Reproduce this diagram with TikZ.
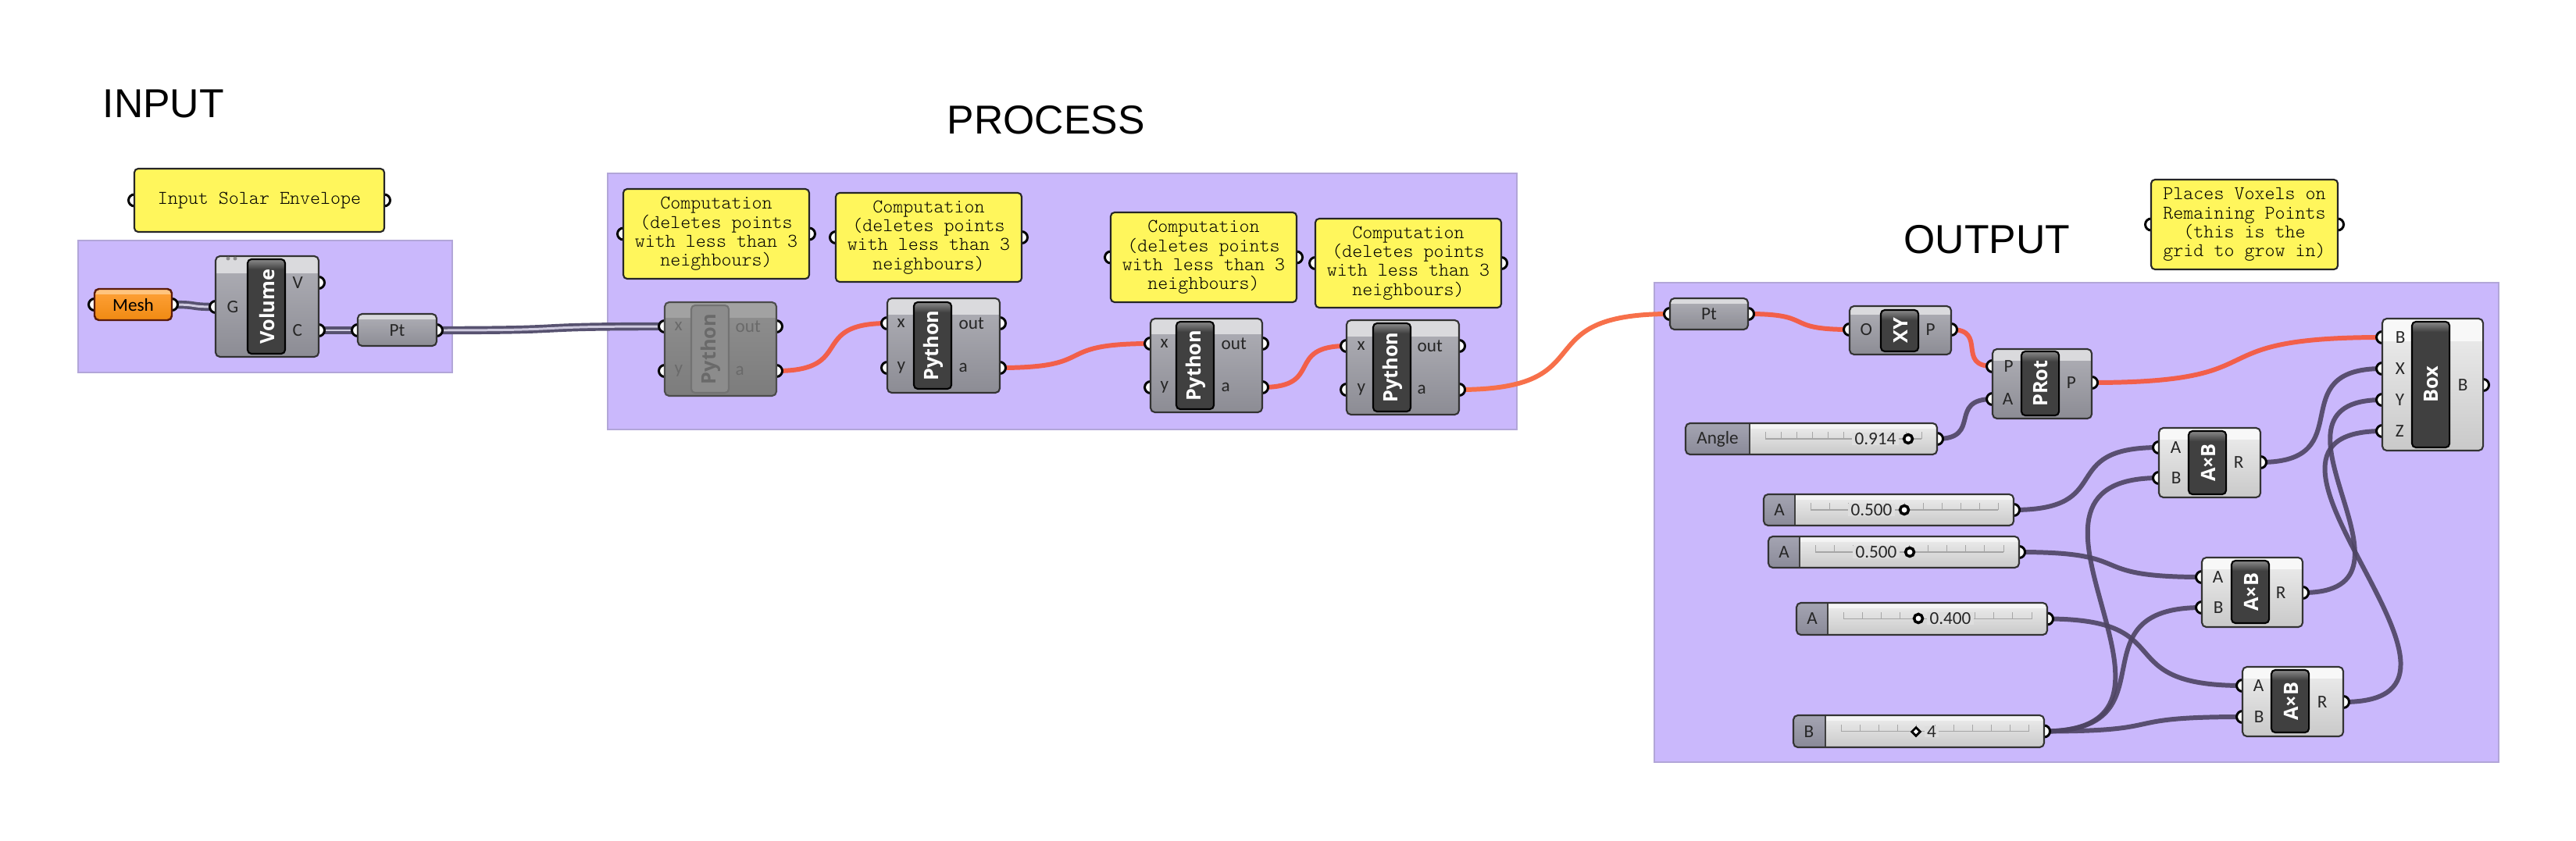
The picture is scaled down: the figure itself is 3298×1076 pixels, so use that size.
\documentclass[tikz,border=0pt]{standalone}
\usepackage{fontspec}
\setmainfont{Liberation Sans}
\newfontfamily\ttlfont{Liberation Sans}
\newfontfamily\cmtfont{Latin Modern Mono Light}
\newfontfamily\ghfont{Carlito}
\newfontfamily\ghbold{Open Sans}
\usetikzlibrary{shapes.geometric}
\pgfdeclarelayer{bgl}
\pgfdeclarelayer{grp}
\pgfdeclarelayer{wire}
\pgfdeclarelayer{prt}
\pgfsetlayers{bgl,grp,wire,prt,main}

\definecolor{grpfill}{HTML}{CAB8FC}
\definecolor{grpline}{HTML}{B2A6D8}
\definecolor{cmtfill}{HTML}{FFF65C}
\definecolor{wred}{HTML}{F25F4A}
\definecolor{wora}{HTML}{F7704A}
\definecolor{wdark}{HTML}{4D4462}
\definecolor{wdbl}{HTML}{575270}
\definecolor{wdblin}{HTML}{CFCBDF}
\definecolor{gtop}{HTML}{B0B0B7}
\definecolor{gbot}{HTML}{8C8C94}
\definecolor{gband}{HTML}{DADADD}
\definecolor{ltop}{HTML}{EEEEEE}
\definecolor{lbot}{HTML}{C9C9C9}
\definecolor{lband}{HTML}{F8F8F8}
\definecolor{dtop}{HTML}{909090}
\definecolor{dbot}{HTML}{7C7C7C}
\definecolor{dband}{HTML}{A2A2A2}
\definecolor{otop}{HTML}{FFA23A}
\definecolor{obot}{HTML}{F08A12}
\definecolor{oband}{HTML}{FFC47E}
\definecolor{sltop}{HTML}{A4A4B2}
\definecolor{slbot}{HTML}{8A8A98}
\definecolor{slmid}{HTML}{DEDEDE}
\definecolor{lbldark}{HTML}{404040}
\definecolor{lblhi}{HTML}{8A8A8A}
\definecolor{dimtext}{HTML}{6A6A6A}

\tikzset{
  grpbox/.style={fill=grpfill, draw=grpline, line width=0.5pt},
  cmtbox/.style={draw=black!85, line width=0.6pt, fill=cmtfill, rounded corners=1.4pt,
    inner sep=0pt, align=center, font=\cmtfont\fontsize{7.05}{6.9}\selectfont},
  ghport/.style={circle, minimum size=0.15cm, inner sep=0pt, fill=white, draw=black, line width=0.85pt},
  grshade/.style={top color=gtop, bottom color=gbot, draw=none},
  grband/.style={fill=gband},
  grframe/.style={draw=black!80, line width=0.6pt, rounded corners=1.6pt, inner sep=0pt},
  ltshade/.style={top color=ltop, bottom color=lbot, draw=none},
  ltband/.style={fill=lband},
  ltframe/.style={draw=black!80, line width=0.6pt, rounded corners=1.6pt, inner sep=0pt},
  dsshade/.style={top color=dtop, bottom color=dbot, draw=none},
  dsband/.style={fill=dband},
  dsframe/.style={draw=black!70, line width=0.6pt, rounded corners=1.6pt, inner sep=0pt},
  orshade/.style={top color=otop, bottom color=obot, draw=none},
  orband/.style={fill=oband},
  orframe/.style={draw={rgb,255:red,91;green,28;blue,12}, line width=0.7pt, rounded corners=1.6pt, inner sep=0pt},
  slshade/.style={top color=ltop, bottom color=lbot, draw=none},
  sllabshade/.style={top color=sltop, bottom color=slbot, draw=none},
  sltrack/.style={draw=black!35, line width=0.3pt},
  plab/.style={inner sep=0pt, text=black!85, font=\ghfont\fontsize{6.6}{7}\selectfont},
  vtext/.style={inner xsep=1pt, inner ysep=0pt, fill=slmid, text=black!85, font=\ghfont\fontsize{6.6}{7}\selectfont},
  lbltext/.style={inner sep=0pt, text=white, font=\ghbold\bfseries\fontsize{7.2}{8}\selectfont},
  lblframe/.style={draw=black, line width=0.6pt, rounded corners=1.4pt, inner sep=0pt},
  knob/.style={circle, minimum size=0.11cm, inner sep=0pt, fill=white, draw=black, line width=1pt},
  knobd/.style={rectangle, rotate=45, minimum size=0.075cm, inner sep=0pt, fill=white, draw=black, line width=0.8pt},
  ttl/.style={inner sep=0pt, font=\ttlfont\fontsize{14.7}{16}\selectfont},
  wirer/.style={line width=1.7pt, draw=wred},
  wireo/.style={line width=1.7pt, draw=wora},
  wired/.style={line width=1.7pt, draw=wdark, draw opacity=0.9},
  wiretwo/.style={draw=wdbl, double=wdblin, double distance=0.85pt, line width=1.05pt},
  gh/.style={out=0, in=180, looseness=1.7},
}

% body of a component: name, kind, x1, y1, x2, y2
\newcommand\ghshape[6]{%
  \begin{scope}
    \clip[rounded corners=1.6pt] (#3,#4) rectangle (#5,#6);
    \path[#2shade] (#3,#4) rectangle (#5,#6);
    \fill[#2band] (#3,#4) rectangle (#5,{#4+(#6-#4)*0.17});
  \end{scope}
  \node[#2frame, minimum width={(#5-#3)*0.01cm}, minimum height={(#6-#4)*0.01cm}] (#1) at ({(#3+#5)/2},{(#4+#6)/2}) {};
}
% dark label box: name, x1, y1, y2, text
\newcommand\ghlabel[5]{%
  \begin{scope}
    \clip[rounded corners=1.4pt] (#2,#3) rectangle (#2+48,#4);
    \fill[lbldark] (#2,#3) rectangle (#2+48,#4);
    \path[top color=lblhi, bottom color=lbldark] (#2,#3) rectangle (#2+48,#3+13);
  \end{scope}
  \node[lblframe, minimum width=0.48cm, minimum height={(#4-#3)*0.01cm}] (#1) at (#2+24,{(#3+#4)/2}) {};
  \node[lbltext, rotate=90] (#1t) at (#2+25,{(#3+#4)/2}) {#5};
}
% port
\newcommand\ghport[3]{%
  \begin{pgfonlayer}{prt}\node[ghport] (#1) at (#2,#3) {};\end{pgfonlayer}%
}
% port label: name, anchor, x, y, text
\newcommand\ghpl[5]{\node[plab, anchor=#2] (#1) at (#3,#4) {#5};}
% comment: name x1 y1 x2 y2 text
\newcommand\ghcmt[6]{%
  \node[cmtbox, minimum width={(#4-#2)*0.01cm}, minimum height={(#5-#3)*0.01cm}] (#1) at ({(#2+#4)/2},{(#3+#5)/2}) {#6};
  \ghport{#1-in}{#2}{{(#3+#5)/2}}
  \ghport{#1-out}{#4}{{(#3+#5)/2}}
}
% slider: name x1 y1 x2 y2 labelright
\newcommand\ghslider[6]{%
  \begin{scope}
    \clip[rounded corners=1.6pt] (#2,#3) rectangle (#4,#5);
    \path[slshade] (#2,#3) rectangle (#4,#5);
    \fill[white, opacity=0.5] (#2,#3) rectangle (#4,{#3+(#5-#3)*0.17});
    \path[sllabshade] (#2,#3) rectangle (#6,#5);
    \draw[line width=0.6pt, draw=black!75] (#6,#3) -- (#6,#5);
  \end{scope}
  \draw[sltrack] ({#6+20},{(#3+#5)/2}) -- ({#4-20},{(#3+#5)/2});
  \foreach \k in {0,...,10} {\draw[sltrack] ({#6+20+\k*(#4-#6-40)/10},{(#3+#5)/2}) -- ++(0,-9);}
  \node[ltframe, minimum width={(#4-#2)*0.01cm}, minimum height={(#5-#3)*0.01cm}] (#1) at ({(#2+#4)/2},{(#3+#5)/2}) {};
  \ghport{#1-o}{#4}{{(#3+#5)/2}}
}

\begin{document}
\begin{tikzpicture}[x=0.01cm, y=-0.01cm]
\useasboundingbox (0,0) rectangle (3298,1076);
\begin{pgfonlayer}{bgl}
  \fill[white] (0,0) rectangle (3298,1076);
\end{pgfonlayer}

% ---------- titles
\node[ttl, anchor=base west] (tin) at (131,150) {INPUT};
\node[ttl, anchor=base west] (tproc) at (1212,172) {PROCESS};
\node[ttl, anchor=base west] (tout) at (2437,324) {OUTPUT};

% ---------- groups
\begin{pgfonlayer}{grp}
  \path[grpbox] (100,308) rectangle (579,477);
  \path[grpbox] (778,222) rectangle (1942,550);
  \path[grpbox] (2118,362) rectangle (3199,976);
\end{pgfonlayer}

% ---------- INPUT
\ghcmt{cin}{172}{216}{492}{297}{Input Solar Envelope}

\ghshape{mesh}{or}{121}{370}{220}{410}
\node[plab, text=black] (mesht) at (170.5,391) {Mesh};
\ghport{mesh-in}{121}{390}
\ghport{mesh-out}{220}{390}

\ghshape{vol}{gr}{276}{328}{408}{457}
\ghlabel{vol-l}{317}{332}{453}{Volume}
\fill[black!45] (292,331) circle (0.7pt) (301,331) circle (0.7pt);
\ghport{vol-G}{276}{393}
\ghport{vol-V}{408}{362}
\ghport{vol-C}{408}{423}
\ghpl{vol-Gt}{west}{290}{393}{G}
\ghpl{vol-Vt}{west}{374}{362}{V}
\ghpl{vol-Ct}{west}{374}{423}{C}

\ghshape{ptin}{gr}{458}{402}{559}{443}
\node[plab] (ptint) at (508.5,423) {Pt};
\ghport{ptin-in}{458}{423}
\ghport{ptin-out}{559}{423}

% ---------- PROCESS
\ghcmt{c1}{798}{242}{1036}{357}{Computation\\(deletes points\\with less than 3\\neighbours)}
\ghcmt{c2}{1070}{247}{1308}{361}{Computation\\(deletes points\\with less than 3\\neighbours)}
\ghcmt{c3}{1422}{272}{1660}{387}{Computation\\(deletes points\\with less than 3\\neighbours)}
\ghcmt{c4}{1684}{280}{1922}{394}{Computation\\(deletes points\\with less than 3\\neighbours)}

% P1 (disabled)
\ghshape{p1}{ds}{851}{387}{994}{507}
\node[draw=black!55, fill=black!45, line width=0.6pt, rounded corners=1.4pt, inner sep=0pt,
  minimum width=0.48cm, minimum height=1.12cm] (p1-l) at (909,447) {};
\node[lbltext, text=dimtext, rotate=90] (p1-lt) at (910,447) {Python};
\ghport{p1-x}{851}{418}
\ghport{p1-y}{851}{475}
\ghport{p1-out}{994}{418}
\ghport{p1-a}{994}{475}
\node[plab, anchor=west, text=dimtext] (p1-xt) at (863,418) {x};
\node[plab, anchor=west, text=dimtext] (p1-yt) at (863,475) {y};
\node[plab, anchor=west, text=dimtext] (p1-ot) at (941,418) {out};
\node[plab, anchor=west, text=dimtext] (p1-at) at (941,475) {a};

% P2
\ghshape{p2}{gr}{1136}{382}{1280}{503}
\ghlabel{p2-l}{1170}{387}{498}{Python}
\ghport{p2-x}{1136}{414}
\ghport{p2-y}{1136}{471}
\ghport{p2-out}{1280}{414}
\ghport{p2-a}{1280}{471}
\ghpl{p2-xt}{west}{1148}{414}{x}
\ghpl{p2-yt}{west}{1148}{471}{y}
\ghpl{p2-ot}{west}{1227}{414}{out}
\ghpl{p2-at}{west}{1227}{471}{a}

% P3
\ghshape{p3}{gr}{1473}{408}{1616}{528}
\ghlabel{p3-l}{1506}{412}{524}{Python}
\ghport{p3-x}{1473}{440}
\ghport{p3-y}{1473}{496}
\ghport{p3-out}{1616}{440}
\ghport{p3-a}{1616}{496}
\ghpl{p3-xt}{west}{1485}{440}{x}
\ghpl{p3-yt}{west}{1485}{496}{y}
\ghpl{p3-ot}{west}{1563}{440}{out}
\ghpl{p3-at}{west}{1563}{496}{a}

% P4
\ghshape{p4}{gr}{1724}{410}{1868}{531}
\ghlabel{p4-l}{1758}{414}{527}{Python}
\ghport{p4-x}{1724}{443}
\ghport{p4-y}{1724}{499}
\ghport{p4-out}{1868}{443}
\ghport{p4-a}{1868}{499}
\ghpl{p4-xt}{west}{1737}{443}{x}
\ghpl{p4-yt}{west}{1737}{499}{y}
\ghpl{p4-ot}{west}{1814}{443}{out}
\ghpl{p4-at}{west}{1814}{499}{a}

% ---------- OUTPUT
\ghcmt{cvox}{2754}{230}{2993}{345}{Places Voxels on\\Remaining Points\\(this is the\\grid to grow in)}

\ghshape{ptout}{gr}{2138}{382}{2238}{422}
\node[plab] (ptoutt) at (2188,402) {Pt};
\ghport{ptout-in}{2138}{402}
\ghport{ptout-out}{2238}{402}

\ghshape{xy}{gr}{2368}{392}{2498}{454}
\ghlabel{xy-l}{2408}{397}{450}{XY}
\ghport{xy-O}{2368}{422}
\ghport{xy-P}{2498}{422}
\ghpl{xy-Ot}{west}{2381}{422}{O}
\ghpl{xy-Pt}{west}{2465}{422}{P}

\ghshape{prot}{gr}{2551}{447}{2678}{536}
\ghlabel{prot-l}{2588}{450}{532}{PRot}
\ghport{prot-P}{2551}{469}
\ghport{prot-A}{2551}{511}
\ghport{prot-Po}{2678}{490}
\ghpl{prot-Pt}{west}{2565}{469}{P}
\ghpl{prot-At}{west}{2563}{511}{A}
\ghpl{prot-Pot}{west}{2645}{490}{P}

\ghshape{box}{lt}{3050}{408}{3179}{577}
\ghlabel{box-l}{3088}{412}{573}{Box}
\ghport{box-B}{3050}{432}
\ghport{box-X}{3050}{472}
\ghport{box-Y}{3050}{512}
\ghport{box-Z}{3050}{552}
\ghport{box-o}{3179}{493}
\ghpl{box-Bt}{west}{3066}{432}{B}
\ghpl{box-Xt}{west}{3066}{472}{X}
\ghpl{box-Yt}{west}{3066}{512}{Y}
\ghpl{box-Zt}{west}{3066}{552}{Z}
\ghpl{box-ot}{west}{3146}{493}{B}

\ghshape{m1}{lt}{2764}{548}{2894}{637}
\ghlabel{m1-l}{2802}{552}{633}{A×B}
\ghport{m1-A}{2764}{573}
\ghport{m1-B}{2764}{612}
\ghport{m1-R}{2894}{592}
\ghpl{m1-At}{west}{2778}{573}{A}
\ghpl{m1-Bt}{west}{2779}{612}{B}
\ghpl{m1-Rt}{west}{2859}{592}{R}

\ghshape{m2}{lt}{2819}{714}{2948}{803}
\ghlabel{m2-l}{2857}{718}{798}{A×B}
\ghport{m2-A}{2819}{739}
\ghport{m2-B}{2819}{778}
\ghport{m2-R}{2948}{759}
\ghpl{m2-At}{west}{2832}{739}{A}
\ghpl{m2-Bt}{west}{2833}{778}{B}
\ghpl{m2-Rt}{west}{2913}{759}{R}

\ghshape{m3}{lt}{2871}{854}{3000}{943}
\ghlabel{m3-l}{2908}{858}{938}{A×B}
\ghport{m3-A}{2871}{878}
\ghport{m3-B}{2871}{918}
\ghport{m3-R}{3000}{899}
\ghpl{m3-At}{west}{2884}{878}{A}
\ghpl{m3-Bt}{west}{2885}{918}{B}
\ghpl{m3-Rt}{west}{2966}{899}{R}

% sliders
\ghslider{ang}{2158}{542}{2480}{582}{2240}
\node[plab] (ang-t) at (2199,562) {Angle};
\node[vtext] (ang-v) at (2401,562) {0.914};
\node[knob] (ang-k) at (2443,562) {};

\ghslider{s1}{2258}{633}{2578}{673}{2298}
\node[plab] (s1-t) at (2278,653) {A};
\node[vtext] (s1-v) at (2396,653) {0.500};
\node[knob] (s1-k) at (2438,653) {};

\ghslider{s2}{2264}{687}{2585}{727}{2304}
\node[plab] (s2-t) at (2284,707) {A};
\node[vtext] (s2-v) at (2402,707) {0.500};
\node[knob] (s2-k) at (2445,707) {};

\ghslider{s3}{2300}{772}{2621}{813}{2340}
\node[plab] (s3-t) at (2320,792) {A};
\node[vtext] (s3-v) at (2497,792) {0.400};
\node[knob] (s3-k) at (2456,792) {};

\ghslider{s4}{2296}{916}{2617}{957}{2337}
\node[plab] (s4-t) at (2316,937) {B};
\node[vtext] (s4-v) at (2473,937) {4};
\node[knobd] (s4-k) at (2453,937) {};

% ---------- wires
\begin{pgfonlayer}{wire}
  \draw[wiretwo] (mesh-out.center) to[gh] (vol-G.center);
  \draw[wiretwo] (vol-C.center) to[gh] (ptin-in.center);
  \draw[wiretwo] (ptin-out.center) to[gh] (p1-x.center);
  \draw[wirer] (p1-a.center) to[gh] (p2-x.center);
  \draw[wirer] (p2-a.center) to[gh] (p3-x.center);
  \draw[wirer] (p3-a.center) to[gh] (p4-x.center);
  \draw[wireo] (p4-a.center) to[gh] (ptout-in.center);
  \draw[wirer] (ptout-out.center) to[gh] (xy-O.center);
  \draw[wirer] (xy-P.center) to[gh] (prot-P.center);
  \draw[wirer] (prot-Po.center) to[gh] (box-B.center);
  \draw[wired] (ang-o.center) to[gh] (prot-A.center);
  \draw[wired] (s1-o.center) to[gh] (m1-A.center);
  \draw[wired] (s2-o.center) to[gh] (m2-A.center);
  \draw[wired] (s3-o.center) to[gh] (m3-A.center);
  \draw[wired] (s4-o.center) to[gh] (m1-B.center);
  \draw[wired] (s4-o.center) to[gh] (m2-B.center);
  \draw[wired] (s4-o.center) to[gh] (m3-B.center);
  \draw[wired] (m1-R.center) to[gh] (box-X.center);
  \draw[wired] (m2-R.center) to[gh] (box-Y.center);
  \draw[wired] (m3-R.center) to[gh] (box-Z.center);
\end{pgfonlayer}
\end{tikzpicture}
\end{document}
